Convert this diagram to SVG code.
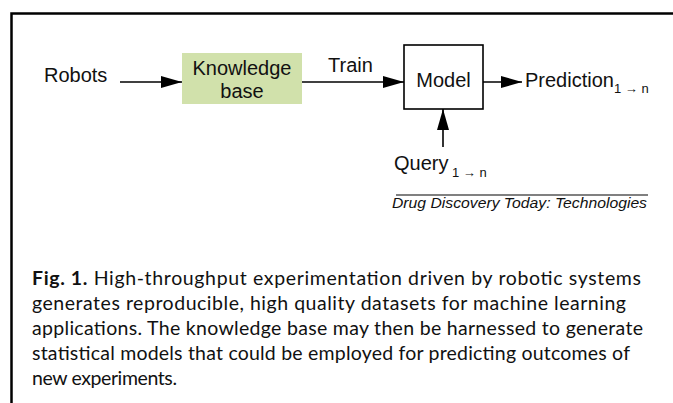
<svg xmlns="http://www.w3.org/2000/svg" width="673" height="403" viewBox="0 0 673 403">
  <defs>
    <marker id="head" markerUnits="userSpaceOnUse" markerWidth="22" markerHeight="12" refX="21" refY="6" orient="auto">
      <path d="M0,0 L21,6 L0,12 Z" fill="#000"/>
    </marker>
    <style>
      .lbl { font-family: "Liberation Sans", Arial, Helvetica, sans-serif; font-size: 20px; fill: #111; }
      .sub { font-family: "Liberation Sans", Arial, Helvetica, sans-serif; font-size: 13px; fill: #111; }
      .src { font-family: "Liberation Sans", Arial, Helvetica, sans-serif; font-size: 14px; font-style: italic; fill: #111; }
      .cap { font-family: "Lato", "Open Sans", sans-serif; font-size: 19.5px; fill: #111; }
      .edge { stroke: #000; stroke-width: 1.6; fill: none; marker-end: url(#head); }
    </style>
  </defs>

  <rect width="673" height="403" fill="#fff"/>
  <!-- outer frame (continues past the right and bottom edges) -->
  <rect x="11.5" y="13.5" width="700" height="420" fill="none" stroke="#000" stroke-width="2.5"/>

  <!-- nodes -->
  <g id="robots">
    <text class="lbl" x="44" y="82">Robots</text>
  </g>
  <g id="knowledge-base">
    <rect x="182" y="53" width="120" height="51" fill="#d1e1ab"/>
    <text class="lbl" x="242" y="75" text-anchor="middle">Knowledge</text>
    <text class="lbl" x="242" y="98" text-anchor="middle">base</text>
  </g>
  <g id="model">
    <rect x="404" y="45" width="79" height="64" fill="#fff" stroke="#000" stroke-width="1.6"/>
    <text class="lbl" x="443.5" y="87" text-anchor="middle">Model</text>
  </g>
  <g id="prediction">
    <text class="lbl" x="525" y="87">Prediction</text>
    <text class="sub" x="614" y="93">1 → n</text>
  </g>
  <g id="query">
    <text class="lbl" x="394" y="170">Query</text>
    <text class="sub" x="452" y="177">1 → n</text>
  </g>

  <!-- connectors -->
  <g id="connectors">
    <line class="edge" x1="120" y1="82" x2="182" y2="82"/>
    <line class="edge" x1="302" y1="82" x2="404" y2="82"/>
    <text class="lbl" x="328" y="72">Train</text>
    <line class="edge" x1="483" y1="82" x2="522" y2="82"/>
    <line class="edge" x1="443" y1="147" x2="443" y2="109"/>
  </g>

  <!-- source credit -->
  <line x1="396" y1="195" x2="648" y2="195" stroke="#808080" stroke-width="2"/>
  <text class="src" x="392" y="208" textLength="255" lengthAdjust="spacingAndGlyphs">Drug Discovery Today: Technologies</text>

  <!-- caption -->
  <g id="caption">
    <text class="cap" x="32" y="285" textLength="609"><tspan font-weight="bold">Fig. 1.</tspan>  High-throughput experimentation driven by robotic systems</text>
    <text class="cap" x="32" y="310" textLength="594">generates reproducible, high quality datasets for machine learning</text>
    <text class="cap" x="32" y="335" textLength="611">applications. The knowledge base may then be harnessed to generate</text>
    <text class="cap" x="32" y="360" textLength="598">statistical models that could be employed for predicting outcomes of</text>
    <text class="cap" x="32" y="385" textLength="145">new experiments.</text>
  </g>
</svg>
